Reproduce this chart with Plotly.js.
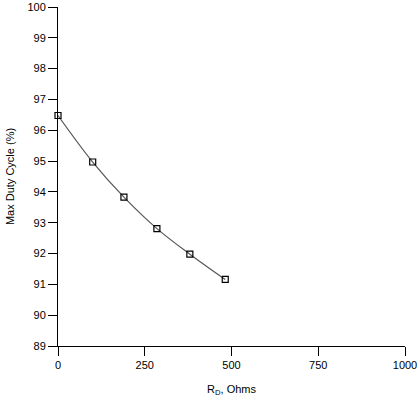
<!DOCTYPE html>
<html><head><meta charset="utf-8">
<script src="https://cdn.plot.ly/plotly-3.0.1.min.js"></script>
<style>html,body{margin:0;padding:0;background:#fff}#c{width:417px;height:397px}</style>
</head><body><div id="c"></div>
<script>
const rdOhms = [0, 100, 190, 285, 380, 482];
const maxDuty = [96.48, 94.97, 93.83, 92.81, 91.98, 91.16];
const xTicks = [0, 250, 500, 750, 1000];
const yTicks = [89, 90, 91, 92, 93, 94, 95, 96, 97, 98, 99, 100];

const trace = {
  x: rdOhms, y: maxDuty, mode: 'lines+markers', type: 'scatter',
  line: {shape: 'spline', color: '#555', width: 1.2},
  marker: {symbol: 'square-open', size: 6, color: '#000', line: {width: 1.2}},
  cliponaxis: false, hoverinfo: 'none'
};
const font = {family: 'Liberation Sans, Arial, sans-serif', size: 11, color: '#000'};
const layout = {
  width: 417, height: 397,
  margin: {l: 58, r: 12, t: 7, b: 51},
  paper_bgcolor: '#fff', plot_bgcolor: '#fff',
  font: font, showlegend: false,
  xaxis: {
    range: [0, 1000], tickvals: xTicks, ticktext: xTicks.map(String),
    ticklabeloverflow: 'allow',
    showgrid: false, zeroline: false, showline: true, linecolor: '#000', linewidth: 1,
    ticks: 'outside', ticklen: 9, tickcolor: '#000', tickwidth: 1,
    title: {text: 'R<sub>D</sub>, Ohms', font: font, standoff: 18}
  },
  yaxis: {
    range: [89, 100], tickvals: yTicks, ticktext: yTicks.map(String),
    ticklabeloverflow: 'allow',
    showgrid: false, zeroline: false, showline: true, linecolor: '#000', linewidth: 1,
    ticks: 'outside', ticklen: 9, tickcolor: '#000', tickwidth: 1,
    title: {text: 'Max Duty Cycle (%)', font: font, standoff: 10}
  }
};
Plotly.newPlot('c', [trace], layout, {staticPlot: true, displayModeBar: false});
</script></body></html>
